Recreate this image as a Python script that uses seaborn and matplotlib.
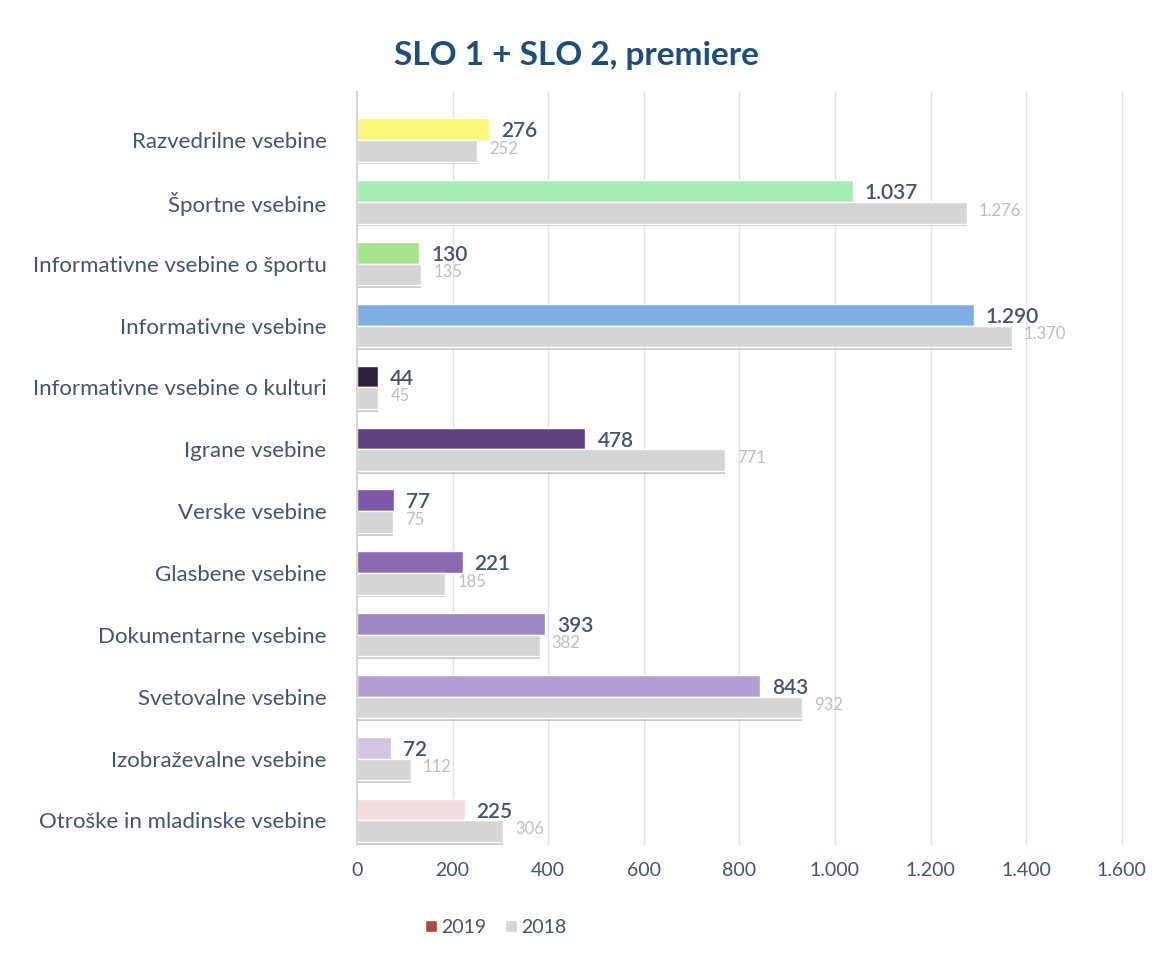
import pandas as pd
import matplotlib
matplotlib.use('Agg')
import matplotlib.pyplot as plt
import matplotlib.patheffects as pe
import seaborn as sns

# --- DATA ---
categories = [
    'Razvedrilne vsebine',
    'Športne vsebine',
    'Informativne vsebine o športu',
    'Informativne vsebine',
    'Informativne vsebine o kulturi',
    'Igrane vsebine',
    'Verske vsebine',
    'Glasbene vsebine',
    'Dokumentarne vsebine',
    'Svetovalne vsebine',
    'Izobraževalne vsebine',
    'Otroške in mladinske vsebine',
]
values_2019 = [276, 1037, 130, 1290, 44, 478, 77, 221, 393, 843, 72, 225]
values_2018 = [252, 1276, 135, 1370, 45, 771, 75, 185, 382, 932, 112, 306]
years = ['2019', '2018']
bar_colors_2019 = ['#F7F77A', '#A6EDB4', '#A5E38C', '#7FAEE3', '#2A1F3C', '#5F4180',
                   '#7C58A8', '#8A6AB0', '#9B85BE', '#B2A0D2', '#D2C4E4', '#F3DCDC']
x_ticks = [0, 200, 400, 600, 800, 1000, 1200, 1400, 1600]
# ------------

TEXT_COLOR = '#44546A'
GRAY = '#D5D5D5'


def fmt(v):
    return f'{v:,}'.replace(',', '.')


sns.set_theme(style='white')
plt.rcParams['font.family'] = ['Lato', 'DejaVu Sans']

df = pd.DataFrame({
    'category': categories * 2,
    'year': ['2019'] * len(categories) + ['2018'] * len(categories),
    'value': values_2019 + values_2018,
})

fig = plt.figure(figsize=(11.53, 9.56), dpi=100)
ax = fig.add_axes([0.3096, 0.116, 0.684, 0.788])

sns.barplot(data=df, y='category', x='value', hue='year', hue_order=years,
            order=categories, palette={'2019': '#C0392B', '2018': GRAY},
            width=0.7, orient='h', ax=ax, errorbar=None, legend=True)

shadow = [pe.SimplePatchShadow(offset=(0, -2), shadow_rgbFace='#9A9A9A', alpha=0.5), pe.Normal()]
for bar, c in zip(ax.containers[0], bar_colors_2019):
    bar.set_facecolor(c)
for bar in ax.containers[1]:
    bar.set_path_effects(shadow)

for bar, v in zip(ax.containers[0], values_2019):
    ax.text(bar.get_width() + 25, bar.get_y() + bar.get_height() * 0.6, fmt(v),
            va='center', ha='left', fontsize=15, fontweight='semibold', color=TEXT_COLOR)
for bar, v in zip(ax.containers[1], values_2018):
    ax.text(bar.get_width() + 25, bar.get_y() + bar.get_height() * 0.4, fmt(v),
            va='center', ha='left', fontsize=12, color='#BDBDBD')

ax.set_xlim(0, 1650)
ax.set_ylim(11.4, -0.78)
ax.set_xticks(x_ticks)
ax.set_xticklabels([fmt(t) for t in x_ticks])
ax.xaxis.grid(True, color='#DCE1EA', linewidth=1)
ax.set_axisbelow(True)
ax.tick_params(axis='both', length=0, colors=TEXT_COLOR)
ax.tick_params(axis='x', pad=12, labelsize=14)
ax.tick_params(axis='y', pad=22, labelsize=16)
ax.set_xlabel('')
ax.set_ylabel('')
for side in ['top', 'right', 'bottom']:
    ax.spines[side].set_visible(False)
ax.spines['left'].set_color('#D0D0D0')

ax.legend(loc='center', bbox_to_anchor=(0.43, 0.03), bbox_transform=fig.transFigure,
          ncol=2, frameon=False, fontsize=14, handlelength=0.6, handleheight=0.6,
          handletextpad=0.2, columnspacing=1.0, labelcolor=TEXT_COLOR)

fig.text(0.5, 0.942, 'SLO 1 + SLO 2, premiere', ha='center', va='center',
         fontsize=24, fontweight='bold', color='#1F4E79')

fig.savefig('out.png', dpi=100)
